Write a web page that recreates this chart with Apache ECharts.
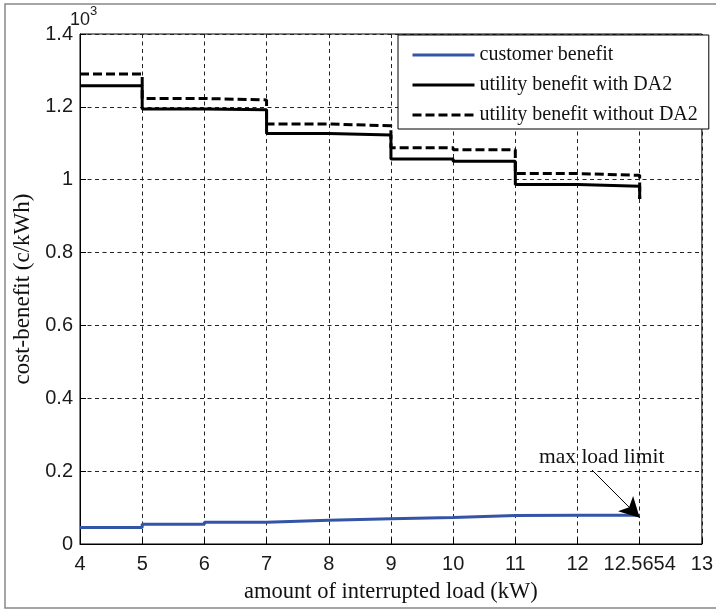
<!DOCTYPE html>
<html>
<head>
<meta charset="utf-8">
<script src="https://cdn.jsdelivr.net/npm/echarts@6/dist/echarts.min.js"></script>
<style>html,body{margin:0;padding:0;background:#fff;}#c{width:716px;height:610px;}</style>
</head>
<body>
<div id="c"></div>
<script>
const xLabels = ['4','5','6','7','8','9','10','11','12','12.5654','13'];
const customerBenefit = [0.045,0.054,0.060,0.065,0.069,0.073,0.078,0.079,0.079,0.079];
const utilityWithDA2 = [1.258,1.194,1.192,1.127,1.123,1.057,1.051,0.987,0.982,0.947];
const utilityWithoutDA2 = [1.290,1.223,1.219,1.153,1.148,1.088,1.082,1.017,1.012,0.947];
const yTicks = [0,0.2,0.4,0.6,0.8,1,1.2,1.4];
const arrowTip = ['12.5654', 0.072];

const chart = echarts.init(document.getElementById('c'), null, {renderer:'canvas'});
const serif = 'Liberation Serif';
const sans = 'Liberation Sans';
const option = {
  animation: false,
  backgroundColor: '#fff',
  grid: {left: 80, top: 34, width: 629, height: 510, show: true, borderColor: '#000', borderWidth: 1, backgroundColor: 'transparent'},
  legend: {
    orient: 'vertical', left: 398, top: 35,
    padding: [10, 11, 4, 13], itemGap: 10,
    itemWidth: 62, itemHeight: 14,
    backgroundColor: '#fff', borderColor: '#000', borderWidth: 1, borderRadius: 0,
    itemStyle: {opacity: 0},
    lineStyle: {width: 3},
    textStyle: {fontFamily: serif, fontSize: 20, color: '#111', lineHeight: 20},
    data: ['customer benefit','utility benefit with DA2','utility benefit without DA2']
  },
  xAxis: {
    type: 'category', data: xLabels, boundaryGap: false,
    name: 'amount of interrupted load (kW)', nameLocation: 'middle', nameGap: 37,
    nameTextStyle: {fontFamily: serif, fontSize: 22.5, color: '#111'},
    axisLine: {lineStyle: {color: '#000', width: 1}},
    axisTick: {show: true, inside: true, length: 6, interval: 0, lineStyle: {color: '#000'}},
    axisLabel: {interval: 0, fontFamily: sans, fontSize: 20, color: '#1a1a1a', margin: 10},
    splitLine: {show: true, interval: 0, lineStyle: {color: '#222', width: 1, type: [4, 3.5]}}
  },
  yAxis: {
    type: 'value', min: yTicks[0], max: yTicks[yTicks.length-1], interval: 0.2,
    name: 'cost-benefit (c/kWh)', nameLocation: 'middle', nameGap: 46, nameRotate: 90,
    nameTextStyle: {fontFamily: serif, fontSize: 23, color: '#111'},
    axisLine: {show: true, lineStyle: {color: '#000', width: 1}},
    axisTick: {show: true, inside: true, length: 6, lineStyle: {color: '#000'}},
    axisLabel: {fontFamily: sans, fontSize: 20, color: '#1a1a1a', margin: 7},
    splitLine: {show: true, lineStyle: {color: '#222', width: 1, type: [4, 3.5]}}
  },
  series: [
    {
      name: 'customer benefit', type: 'line', step: 'end', symbol: 'none',
      data: customerBenefit, z: 3,
      lineStyle: {color: '#3454a6', width: 3}, itemStyle: {color: '#3454a6'},
      markLine: {
        silent: true, animation: false,
        symbol: ['none', 'arrow'], symbolSize: [16, 20],
        lineStyle: {color: '#000', width: 1, type: 'solid'},
        label: {show: false},
        data: [[{x: 592, y: 470, symbol: 'none'}, {coord: arrowTip, symbol: 'arrow'}]]
      }
    },
    {
      name: 'utility benefit with DA2', type: 'line', step: 'end', symbol: 'none',
      data: utilityWithDA2, z: 4,
      lineStyle: {color: '#000', width: 3}, itemStyle: {color: '#000'}
    },
    {
      name: 'utility benefit without DA2', type: 'line', step: 'end', symbol: 'none',
      data: utilityWithoutDA2, z: 3,
      lineStyle: {color: '#000', width: 3, type: [9, 4]}, itemStyle: {color: '#000'}
    }
  ],
  graphic: [
    {type: 'rect', silent: true, z: 100, shape: {x: 5, y: 4, width: 730, height: 604},
     style: {fill: 'none', stroke: '#888', lineWidth: 1.5}},
    {type: 'text', silent: true, z: 100, left: 70, top: 11,
     style: {text: '10', font: '18px "Liberation Sans"', fill: '#1a1a1a'}},
    {type: 'text', silent: true, z: 100, left: 90, top: 5,
     style: {text: '3', font: '13px "Liberation Sans"', fill: '#1a1a1a'}},
    {type: 'text', silent: true, z: 100, left: 539, top: 446,
     style: {text: 'max load limit', font: '21.5px "Liberation Serif"', fill: '#111'}}
  ]
};
chart.setOption(option);
</script>
</body>
</html>
